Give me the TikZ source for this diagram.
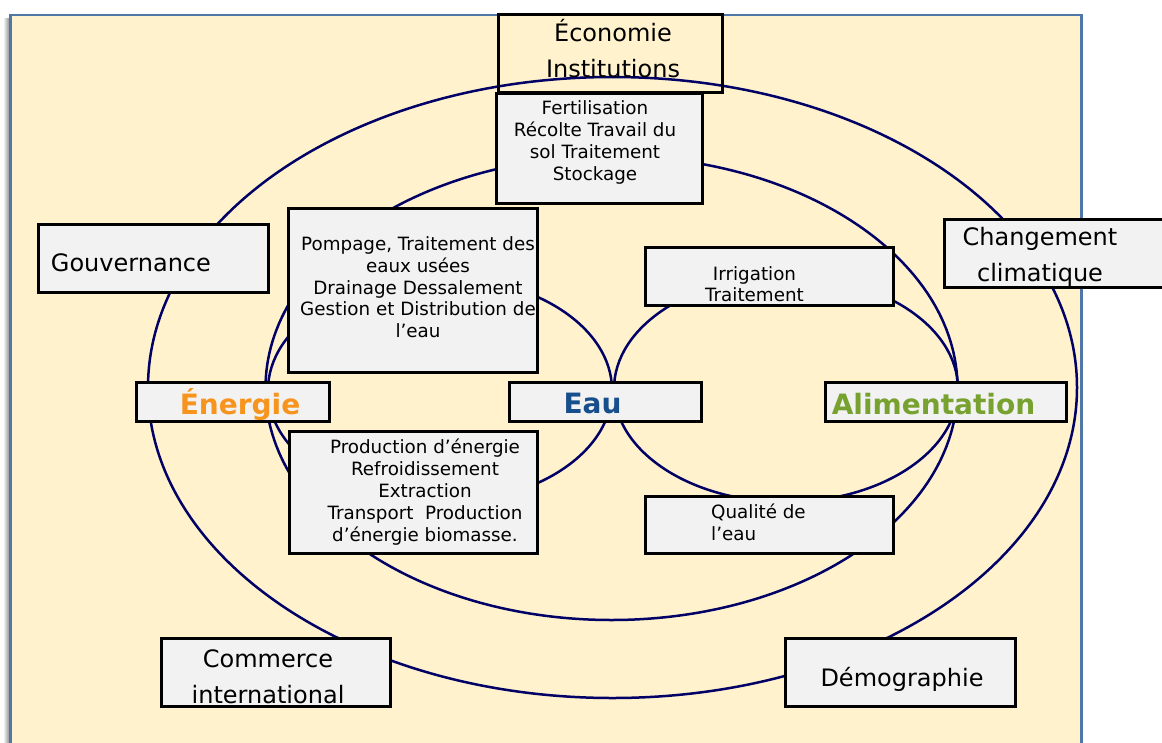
\documentclass[tikz,border=0pt]{standalone}
\usepackage{fontspec}
\setmainfont{DejaVu Sans}
\definecolor{paper}{HTML}{FFF2CC}
\definecolor{frame}{HTML}{4F78A8}
\definecolor{boxfill}{HTML}{F2F2F2}
\definecolor{ring}{HTML}{000066}
\definecolor{energie}{HTML}{F7941D}
\definecolor{eau}{HTML}{174E8C}
\definecolor{alim}{HTML}{77A230}
\tikzset{
	box/.style={draw=black, line width=3pt, fill=boxfill, inner sep=0pt},
	big/.style={font=\fontsize{24}{36}\selectfont, inner sep=0pt, align=center},
	small/.style={font=\fontsize{18.3}{21.8}\selectfont, inner sep=0pt, align=center},
	key/.style={font=\fontsize{28}{30}\selectfont\bfseries, inner sep=0pt},
	rim/.style={ring, line width=2.5pt}
}
\begin{document}
\begin{tikzpicture}[x=1pt, y=-1pt]
	\useasboundingbox (0,0) rectangle (1162,742);
	\coordinate (O1) at (612.5, 387.5);	% outer ring
	\coordinate (O2) at (611.5, 388);	% middle ring
	\coordinate (L) at (440, 390);	% water - energy
	\coordinate (R) at (786, 389);	% water - food

	% background sheet
	\shade[left color=white, right color=black!45] (3,18) rectangle (9.5,742);
	\draw[frame, fill=paper, line width=2.5pt] (10.5,15) rectangle (1081.5,760);

	\draw[rim] (O1) ellipse [x radius=464.5, y radius=310.5];
	\draw[rim] (O2) ellipse [x radius=346, y radius=232];
	\draw[rim] (L) ellipse [x radius=172, y radius=113];
	\draw[rim] (R) ellipse [x radius=172, y radius=113];

	% boxes
	\node[box, fill=none, minimum width=224pt, minimum height=78pt] (econ) at (610,53) {};
	\node[box, minimum width=206pt, minimum height=110pt] (fert) at (599,148) {};
	\node[box, minimum width=230pt, minimum height=68pt] (gouv) at (153,258) {};
	\node[box, minimum width=249pt, minimum height=164pt] (pomp) at (412.5,290) {};
	\node[box, minimum width=193pt, minimum height=39pt] (ener) at (232.5,401.5) {};
	\node[box, minimum width=192pt, minimum height=39pt] (eau) at (605,401.5) {};
	\node[box, minimum width=241pt, minimum height=39pt] (alim) at (945.5,401.5) {};
	\node[box, minimum width=248pt, minimum height=58pt] (irrig) at (769,276) {};
	\node[box, minimum width=248pt, minimum height=122pt] (prod) at (413,492) {};
	\node[box, minimum width=248pt, minimum height=57pt] (qual) at (769,524.5) {};
	\node[box, minimum width=226pt, minimum height=68pt] (clim) at (1057,253) {};
	\node[box, minimum width=229pt, minimum height=68pt] (comm) at (275.5,672) {};
	\node[box, minimum width=230pt, minimum height=68pt] (demo) at (900,672) {};

	% texts (base = last line)
	\node[big, anchor=base] (econ-t) at (613,77) {Économie\\Institutions};
	\node[small, anchor=base] (fert-t) at (595,180) {Fertilisation\\Récolte Travail du\\sol Traitement\\Stockage};
	\node[big, anchor=base west] (gouv-t) at (50.7,271) {Gouvernance};
	\node[small, anchor=base] (pomp-t) at (418,337.7) {Pompage, Traitement des\\eaux usées\\Drainage Dessalement\\Gestion et Distribution de\\l’eau};
	\node[key, energie, anchor=base] (ener-t) at (240,414) {Énergie};
	\node[key, eau, anchor=base] (eau-t) at (592.5,413) {Eau};
	\node[key, alim, anchor=base] (alim-t) at (933.5,414) {Alimentation};
	\node[small, anchor=base] (irrig-t) at (754.5,301.8) {Irrigation\\Traitement};
	\node[small, anchor=base] (prod-t) at (425,541) {Production d’énergie\\Refroidissement\\Extraction\\Transport~ Production\\d’énergie biomasse.};
	\node[small, align=left, anchor=base west] (qual-t) at (711,540.1) {Qualité de\\l’eau};
	\node[big, anchor=base] (clim-t) at (1040,281) {Changement\\climatique};
	\node[big, anchor=base] (comm-t) at (268,703) {Commerce\\international};
	\node[big, anchor=base] (demo-t) at (902,686) {Démographie};
\end{tikzpicture}
\end{document}
